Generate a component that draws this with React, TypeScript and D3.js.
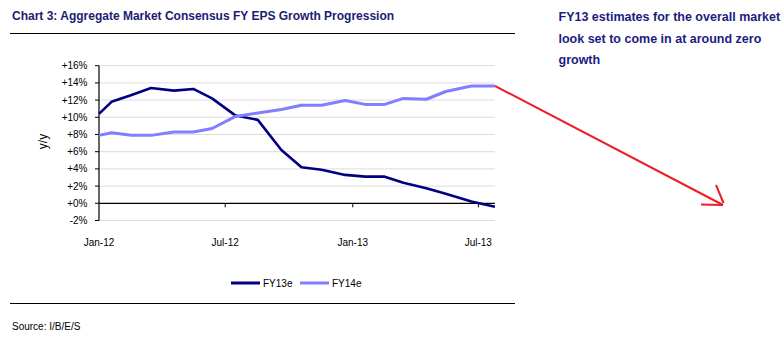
import React from "react";
import * as d3 from "d3";

const dates: string[] = [
  "2012-01-01", "2012-01-19", "2012-02-17", "2012-03-16", "2012-04-18",
  "2012-05-16", "2012-06-12", "2012-07-16", "2012-08-17", "2012-09-20",
  "2012-10-19", "2012-11-17", "2012-12-21", "2013-01-19", "2013-02-16",
  "2013-03-15", "2013-04-17", "2013-05-15", "2013-06-21", "2013-07-25",
];
const fy13e: number[] = [
  10.4, 11.8, 12.6, 13.4, 13.1, 13.3, 12.2, 10.2, 9.7, 6.2,
  4.2, 3.9, 3.3, 3.1, 3.1, 2.4, 1.75, 1.1, 0.2, -0.4,
];
const fy14e: number[] = [
  7.9, 8.2, 7.9, 7.9, 8.3, 8.3, 8.7, 10.1, 10.5, 10.9,
  11.4, 11.4, 11.95, 11.5, 11.5, 12.2, 12.1, 13.0, 13.65, 13.65,
];
const yTicks: number[] = [-2, 0, 2, 4, 6, 8, 10, 12, 14, 16];
const xTickDates: string[] = ["2012-01-01", "2012-07-01", "2013-01-01", "2013-07-01"];
const xTickLabels: string[] = ["Jan-12", "Jul-12", "Jan-13", "Jul-13"];
const seriesNames: string[] = ["FY13e", "FY14e"];
const seriesColors: string[] = ["#000080", "#7f7fff"];
const titleText = "Chart 3: Aggregate Market Consensus FY EPS Growth Progression";
const noteLines: string[] = [
  "FY13 estimates for the overall market",
  "look set to come in at around zero",
  "growth",
];
const sourceText = "Source: I/B/E/S";

const FONT = "'Liberation Sans', Arial, sans-serif";

export default function App() {
  const parse = d3.utcParse("%Y-%m-%d");
  const pts = dates.map((d) => parse(d) as Date);
  const x = d3
    .scaleUtc()
    .domain([parse("2012-01-01") as Date, parse("2013-07-01") as Date])
    .range([99, 478.3]);
  const y = d3.scaleLinear().domain([0, 16]).range([203.3, 65.7]);
  const xEnd = x(pts[pts.length - 1]);
  const x0 = x(pts[0]);

  const line = d3
    .line<number>()
    .x((_, i) => x(pts[i]))
    .y((v) => y(v));

  const series = [fy13e, fy14e];
  const widths = [2.6, 3];

  const lastX = x(pts[pts.length - 1]);
  const lastY = y(fy14e[fy14e.length - 1]);

  return (
    <svg
      width={781}
      height={340}
      style={{ position: "absolute", left: 0, top: 0, background: "#fff" }}
      fontFamily={FONT}
    >
      <text x={12} y={19.5} fontSize={12} fontWeight="bold" fill="#1c1c72">
        {titleText}
      </text>
      <line x1={10} x2={515} y1={33.5} y2={33.5} stroke="#000" strokeWidth={1.2} />

      {noteLines.map((t, i) => (
        <text
          key={i}
          x={558.5}
          y={21 + i * 21.5}
          fontSize={12.5}
          fontWeight="bold"
          fill="#1c1c80"
        >
          {t}
        </text>
      ))}

      {/* gridlines */}
      {yTicks.map((t) =>
        t === 0 ? null : (
          <line
            key={t}
            x1={x0}
            x2={xEnd}
            y1={y(t)}
            y2={y(t)}
            stroke="#dcdcdc"
            strokeWidth={1}
          />
        )
      )}
      {/* y axis */}
      <line x1={x0} x2={x0} y1={y(16)} y2={y(-2)} stroke="#000" strokeWidth={1.2} />
      {yTicks.map((t) => (
        <g key={"yt" + t}>
          <line x1={x0 - 4} x2={x0} y1={y(t)} y2={y(t)} stroke="#000" strokeWidth={1} />
          <text
            x={87.5}
            y={y(t)}
            dy="0.35em"
            textAnchor="end"
            fontSize={10}
            fill="#000"
          >
            {(t >= 0 ? "+" : "") + t + "%"}
          </text>
        </g>
      ))}
      <text
        transform={`translate(47,${141.5}) rotate(-90)`}
        textAnchor="middle"
        fontSize={12}
        fill="#000"
      >
        y/y
      </text>
      {/* x axis */}
      <line x1={x0} x2={xEnd} y1={y(0)} y2={y(0)} stroke="#000" strokeWidth={1.2} />
      {xTickDates.map((d, i) => {
        const xx = x(parse(d) as Date);
        return (
          <g key={d}>
            {i > 0 && (
              <line x1={xx} x2={xx} y1={y(0)} y2={y(0) + 4} stroke="#000" strokeWidth={1} />
            )}
            <text x={xx} y={245.5} textAnchor="middle" fontSize={10} fill="#000">
              {xTickLabels[i]}
            </text>
          </g>
        );
      })}

      {/* series */}
      {series.map((s, i) => (
        <path
          key={i}
          d={line(s) || ""}
          fill="none"
          stroke={seriesColors[i]}
          strokeWidth={widths[i]}
          strokeLinejoin="round"
        />
      ))}

      {/* red arrow */}
      <g stroke="#ee1c24" strokeWidth={2} fill="none" strokeLinecap="butt">
        <line x1={lastX} y1={lastY} x2={723} y2={205} />
        <line x1={701} y1={204.5} x2={723} y2={205} />
        <line x1={716} y1={185} x2={723.5} y2={203} />
      </g>

      {/* legend */}
      {seriesNames.map((n, i) => {
        const lx = 231 + i * 69;
        return (
          <g key={n}>
            <line
              x1={lx}
              x2={lx + 29}
              y1={283}
              y2={283}
              stroke={seriesColors[i]}
              strokeWidth={3}
            />
            <text x={lx + 32} y={286.5} fontSize={10} fill="#000">
              {n}
            </text>
          </g>
        );
      })}
      <line x1={10} x2={515} y1={303.5} y2={303.5} stroke="#000" strokeWidth={1.2} />
      <text x={12} y={330} fontSize={10} fill="#000">
        {sourceText}
      </text>
    </svg>
  );
}
